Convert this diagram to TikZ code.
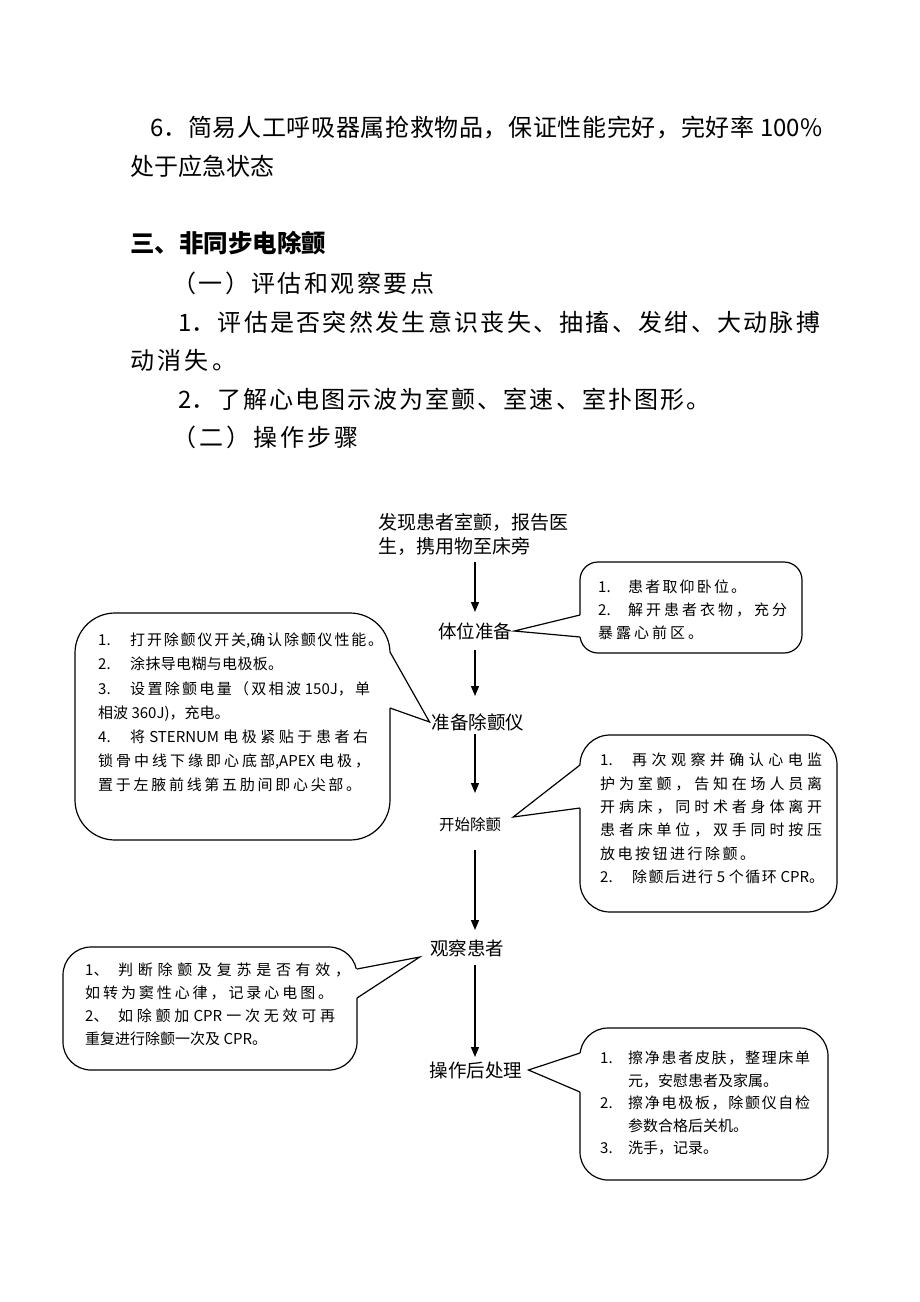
\documentclass[tikz,border=0pt]{standalone}
\usepackage{fontspec}
\setmainfont{Noto Sans CJK SC}
\usetikzlibrary{arrows.meta}

% glue between hanzi, so that lines can be spread out
\newskip\hzgap
\hzgap=0pt plus 8pt minus 1pt
\newcount\hzc
\hzc="3400
\loop
  \XeTeXcharclass\hzc=1
  \advance\hzc by 1
\ifnum\hzc<"A000 \repeat
\XeTeXcharclass"3001=3 \XeTeXcharclass"3002=3
\XeTeXcharclass"FF0C=3 \XeTeXcharclass"FF0E=3
\XeTeXcharclass"FF09=3 \XeTeXcharclass"FF08=2
\XeTeXinterchartokenstate=1
\XeTeXinterchartoks 1 1 = {\hskip\hzgap}
\XeTeXinterchartoks 1 2 = {\hskip\hzgap}
\XeTeXinterchartoks 1 3 = {\hskip\hzgap}
\XeTeXinterchartoks 2 1 = {\hskip\hzgap}
\XeTeXinterchartoks 3 1 = {\hskip\hzgap}
\XeTeXinterchartoks 3 2 = {\hskip\hzgap}
\XeTeXinterchartoks 3 3 = {\hskip\hzgap}

\newcommand\jl[2]{\makebox[#1][s]{#2}}
\newcommand\numbox[2][32pt]{\makebox[#1][l]{#2}}

\tikzset{
  body/.style={anchor=west, inner sep=0pt, font=\fontsize{24}{28}\selectfont},
  flowtext/.style={inner sep=2pt, font=\fontsize{18.5}{24}\selectfont},
  balloon/.style={draw, fill=white, line width=1.2pt, inner sep=0pt},
  note/.style={anchor=west, inner sep=0pt, align=left, font=\fontsize{15}{23.5}\selectfont},
  flow/.style={-{Triangle[length=10pt,width=8pt]}, line width=1.4pt},
  tail/.style={line width=1.2pt}
}

\begin{document}
\begin{tikzpicture}[x=1pt, y=-1pt]
  \fill[white] (0,0) rectangle (920,1302);
  \useasboundingbox (0,0) rectangle (920,1302);

  % running text above the chart
  \node[body] (p6a) at (150,128) {\jl{672pt}{6．简易人工呼吸器属抢救物品，保证性能完好，完好率 100\%}};
  \node[body] (p6b) at (130,166) {处于应急状态};
  \node[body, font=\fontsize{24.5}{28}\selectfont\bfseries] (h3) at (130,243) {三、非同步电除颤};
  \node[body] (s1) at (172,283) {\jl{262pt}{（一）评估和观察要点}};
  \node[body] (e1a) at (178,322) {\jl{642pt}{1．评估是否突然发生意识丧失、抽搐、发绀、大动脉搏}};
  \node[body] (e1b) at (130,360) {\jl{106pt}{动消失。}};
  \node[body] (e2) at (178,399) {\jl{532pt}{2．了解心电图示波为室颤、室速、室扑图形。}};
  \node[body] (s2) at (172,437) {\jl{186pt}{（二）操作步骤}};

  % steps
  \node[flowtext, anchor=west, align=left, font=\fontsize{19}{24}\selectfont] (n0) at (376,534) {发现患者室颤，报告医\\生，携用物至床旁};
  \node[flowtext] (n1) at (475,631) {体位准备};
  \node[flowtext] (n2) at (478,722) {准备除颤仪};
  \node[flowtext, font=\fontsize{15.5}{18}\selectfont] (n3) at (470,825) {开始除颤};
  \node[flowtext] (n4) at (467,948) {观察患者};
  \node[flowtext] (n5) at (476,1070) {操作后处理};

  \draw[flow, shorten <=28pt, shorten >=19pt] (n0 -| n1) -- (n1.center);
  \draw[flow, shorten <=19pt, shorten >=26pt] (n1.center) -- (n2 -| n1);
  \draw[flow, shorten <=12pt, shorten >=32pt] (n2 -| n1) -- (n3 -| n1);
  \draw[flow, shorten <=25pt, shorten >=18pt] (n3 -| n1) -- (n4 -| n1);
  \draw[flow, shorten <=17pt, shorten >=13pt] (n4 -| n1) -- (n5 -| n1);

  % balloons
  \node[balloon, rounded corners=18pt, minimum width=222pt, minimum height=91pt] (c1) at (691,607.5) {};
  \node[balloon, rounded corners=40pt, minimum width=315pt, minimum height=227pt] (c2) at (232.5,726.5) {};
  \node[balloon, rounded corners=30pt, minimum width=257pt, minimum height=177pt] (c3) at (708.5,823.5) {};
  \node[balloon, rounded corners=28pt, minimum width=294pt, minimum height=123pt] (c4) at (210,1008.5) {};
  \node[balloon, rounded corners=28pt, minimum width=248pt, minimum height=152pt] (c5) at (704,1104) {};

  \coordinate (c1a) at (580,615);  \coordinate (c1b) at (580,637);
  \coordinate (c2a) at (390,652);  \coordinate (c2b) at (390,708);
  \coordinate (c3a) at (580,765);  \coordinate (c3b) at (580,808);
  \coordinate (c4a) at (357,969);  \coordinate (c4b) at (357,998);
  \coordinate (c5a) at (580,1053); \coordinate (c5b) at (580,1092);
  \coordinate (t3) at ([xshift=10pt,yshift=8pt]n3.east);
  \coordinate (t4) at ([xshift=-8pt,yshift=-9pt]n4.west);
  \coordinate (t5) at ([xshift=4pt]n5.east);

  \foreach \a/\b/\t/\s in {c1a/c1b/n1.east/3pt, c2a/c2b/n2.west/-3pt, c3a/c3b/t3/3pt,
                          c4a/c4b/t4/-3pt, c5a/c5b/t5/3pt} {
    \fill[white] (\a) -- (\t) -- (\b) -- ([xshift=\s]\b) -- ([xshift=\s]\a) -- cycle;
    \draw[tail] (\a) -- (\t) -- (\b);
  }

  % balloon texts
  \node[note, font=\fontsize{15}{23}\selectfont] (c1t) at (598,610)
    {\jl{148pt}{\numbox[30pt]{1.}患者取仰卧位。}\\
     \jl{189pt}{\numbox[30pt]{2.}解开患者衣物，充分}\\
     \jl{105pt}{暴露心前区。}};
  \node[note, font=\fontsize{15}{24.2}\selectfont] (c2t) at (98,712.5)
    {\jl{285pt}{\numbox{1.}打开除颤仪开关,确认除颤仪性能。}\\
     \jl{185pt}{\numbox{2.}涂抹导电糊与电极板。}\\
     \jl{272pt}{\numbox{3.}设置除颤电量（双相波 150J，单}\\
     相波 360J)，充电。\\
     \jl{270pt}{\numbox{4.}将 STERNUM 电极紧贴于患者右}\\
     \jl{272pt}{锁骨中线下缘即心底部,APEX 电极，}\\
     \jl{263pt}{置于左腋前线第五肋间即心尖部。}};
  \node[note, font=\fontsize{15}{23.4}\selectfont] (c3t) at (600,818.5)
    {\jl{222pt}{\numbox{1.}再次观察并确认心电监}\\
     \jl{222pt}{护为室颤，告知在场人员离}\\
     \jl{222pt}{开病床，同时术者身体离开}\\
     \jl{222pt}{患者床单位，双手同时按压}\\
     \jl{155pt}{放电按钮进行除颤。}\\
     \jl{224pt}{\numbox{2.}除颤后进行 5 个循环 CPR。}};
  \node[note, font=\fontsize{15}{23}\selectfont] (c4t) at (85,1004.5)
    {\jl{265pt}{\numbox[33pt]{1、}判断除颤及复苏是否有效，}\\
     \jl{248pt}{如转为窦性心律，记录心电图。}\\
     \jl{250pt}{\numbox[33pt]{2、}如除颤加 CPR 一次无效可再}\\
     重复进行除颤一次及 CPR。};
  \node[note, font=\fontsize{15}{22.5}\selectfont] (c5t) at (600,1103)
    {\jl{210pt}{\numbox[28pt]{1.}擦净患者皮肤，整理床单}\\
     \numbox[28pt]{}元，安慰患者及家属。\\
     \jl{210pt}{\numbox[28pt]{2.}擦净电极板，除颤仪自检}\\
     \numbox[28pt]{}参数合格后关机。\\
     \numbox[28pt]{3.}洗手，记录。};
\end{tikzpicture}
\end{document}
